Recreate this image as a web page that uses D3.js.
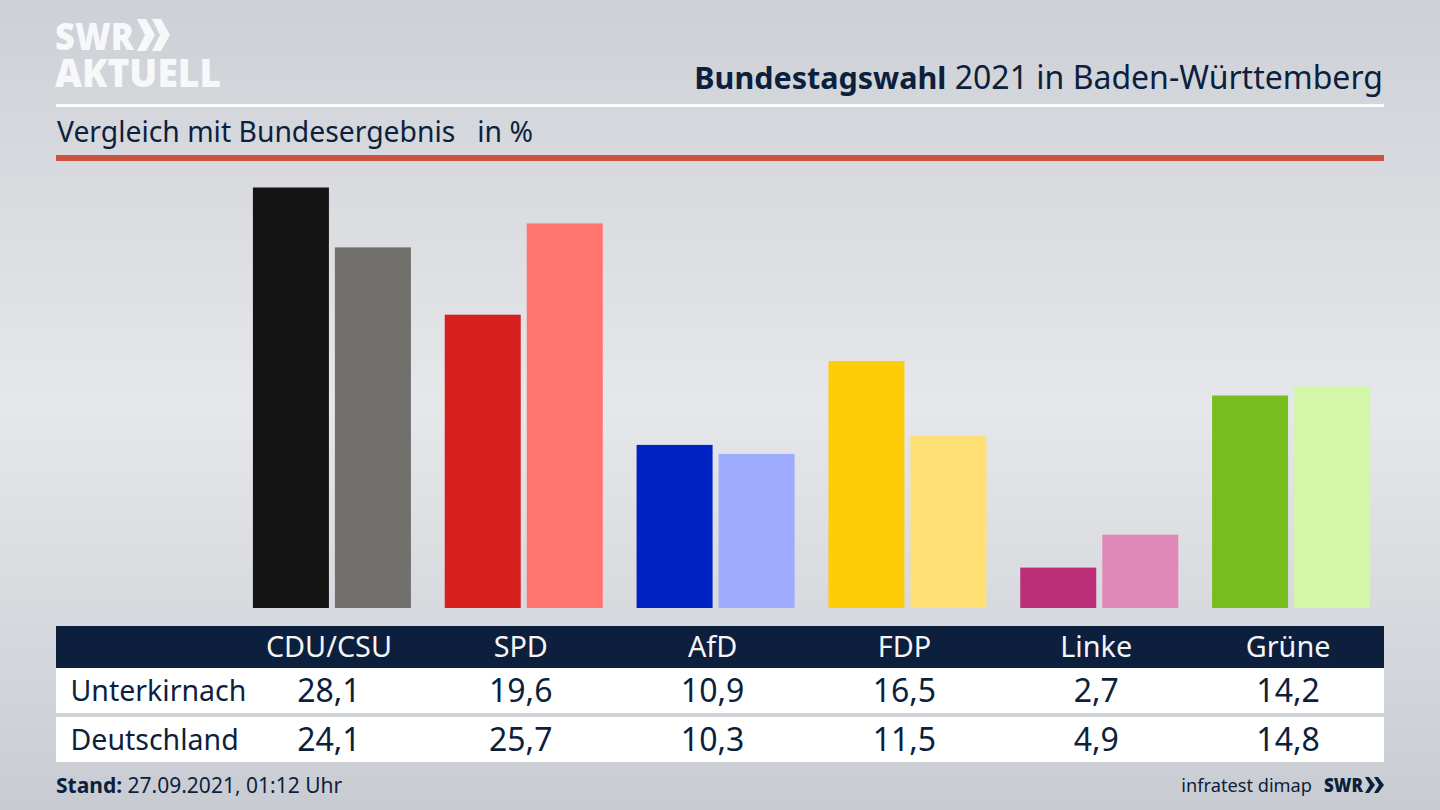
<!DOCTYPE html>
<html lang="de">
<head>
<meta charset="utf-8">
<script src="https://cdn.jsdelivr.net/npm/d3@7"></script>
<style>
  html, body { margin: 0; padding: 0; background: #d6d8dd; }
  svg { display: block; font-family: "Noto Sans", sans-serif; }
</style>
</head>
<body>
<div id="chart"></div>
<script>
const parties = ['CDU/CSU', 'SPD', 'AfD', 'FDP', 'Linke', 'Grüne'];
const regions = ['Unterkirnach', 'Deutschland'];
const unterkirnach = [28.1, 19.6, 10.9, 16.5, 2.7, 14.2];
const deutschland = [24.1, 25.7, 10.3, 11.5, 4.9, 14.8];
const colorsDark = ['#141414', '#d61f1f', '#0022c4', '#ffcc0a', '#bb2f78', '#78bd1e'];
const colorsLight = ['#72706d', '#ff746c', '#9eabff', '#ffe074', '#e088b8', '#d3f7a8'];

const width = 1440, height = 810;
const navy = '#0c1f3d';

const svg = d3.select('#chart').append('svg')
    .attr('width', width)
    .attr('height', height);

// background
const defs = svg.append('defs');
const bg = defs.append('linearGradient').attr('id', 'bg')
    .attr('x1', 0).attr('y1', 0).attr('x2', 0).attr('y2', 1);
[[0, '#cdd0d6'], [0.5, '#e6e7ea'], [1, '#c8ccd2']].forEach(s => {
    bg.append('stop').attr('offset', s[0]).attr('stop-color', s[1]);
});
svg.append('rect').attr('width', width).attr('height', height).attr('fill', 'url(#bg)');

// scales
const x = d3.scaleBand().domain(parties).range([233, 1384]);
const inner = d3.scaleBand().domain([0, 1]).range([-76, 82]).paddingInner(6 / 82);
const y = d3.scaleLinear().domain([0, 28.1]).range([608, 187.5]);

// bars
[unterkirnach, deutschland].forEach((values, s) => {
    const colors = s === 0 ? colorsDark : colorsLight;
    svg.append('g').selectAll('rect')
        .data(values)
        .join('rect')
        .attr('x', (d, i) => x(parties[i]) + x.bandwidth() / 2 + inner(s))
        .attr('y', d => y(d))
        .attr('width', inner.bandwidth())
        .attr('height', d => y(0) - y(d))
        .attr('fill', (d, i) => colors[i]);
});

// header block
const logo = svg.append('g').attr('fill', '#f7f8f9').attr('font-weight', 900);
logo.append('text').attr('x', 55).attr('y', 50).attr('font-size', 37)
    .attr('textLength', 79).attr('lengthAdjust', 'spacingAndGlyphs').text('SWR');
logo.append('text').attr('x', 55).attr('y', 87).attr('font-size', 38)
    .attr('textLength', 166).attr('lengthAdjust', 'spacingAndGlyphs').text('AKTUELL');
logo.selectAll('path').data([137, 152]).join('path')
    .attr('d', d => `M${d},19 L${d + 9},19 L${d + 18},35 L${d + 9},51 L${d},51 L${d + 8},35 Z`);

const title = svg.append('text')
    .attr('x', 1383).attr('y', 89)
    .attr('text-anchor', 'end')
    .attr('font-size', 32)
    .attr('fill', navy);
title.append('tspan').attr('font-weight', 700).attr('font-size', 30.5).text('Bundestagswahl');
title.append('tspan').text(' 2021 in Baden-Württemberg');

svg.append('rect').attr('x', 56).attr('y', 104).attr('width', 1328).attr('height', 3).attr('fill', '#fff');
svg.append('text').attr('x', 57).attr('y', 142).attr('font-size', 28.3).attr('fill', navy)
    .attr('xml:space', 'preserve').text('Vergleich mit Bundesergebnis   in %');
svg.append('rect').attr('x', 56).attr('y', 155).attr('width', 1328).attr('height', 6).attr('fill', '#c9533f');

// table
svg.append('rect').attr('x', 56).attr('y', 626).attr('width', 1328).attr('height', 42).attr('fill', navy);
const rowTop = [668, 717];
const rowBaseline = [701, 750];

const partyAxis = svg.append('g')
    .attr('transform', 'translate(0,626)')
    .call(d3.axisBottom(x).tickSize(0).tickPadding(0));
partyAxis.select('.domain').remove();
partyAxis.selectAll('text')
    .attr('y', 31).attr('dy', null)
    .attr('font-family', '"Noto Sans", sans-serif')
    .attr('font-size', 28.8).attr('fill', '#f4f5f7');

[unterkirnach, deutschland].forEach((values, r) => {
    svg.append('rect').attr('x', 56).attr('y', rowTop[r]).attr('width', 1328).attr('height', 45).attr('fill', '#fff');
    svg.append('text').attr('x', 70.5).attr('y', rowBaseline[r]).attr('font-size', 28.5).attr('fill', navy).text(regions[r]);
    svg.append('g').selectAll('text')
        .data(values)
        .join('text')
        .attr('x', (d, i) => x(parties[i]) + x.bandwidth() / 2)
        .attr('y', rowBaseline[r] + 1)
        .attr('text-anchor', 'middle')
        .attr('font-size', 32)
        .attr('fill', navy)
        .text(d => d3.format('.1f')(d).replace('.', ','));
});

// footer
const stand = svg.append('text').attr('x', 56).attr('y', 793).attr('font-size', 21).attr('fill', navy);
stand.append('tspan').attr('font-weight', 700).text('Stand:');
stand.append('tspan').text(' 27.09.2021, 01:12 Uhr');

svg.append('text').attr('x', 1312).attr('y', 792).attr('text-anchor', 'end')
    .attr('font-size', 18.2).attr('fill', navy).text('infratest dimap');
svg.append('text').attr('x', 1324).attr('y', 792).attr('font-size', 20).attr('font-weight', 900)
    .attr('textLength', 39).attr('lengthAdjust', 'spacingAndGlyphs').attr('fill', navy).text('SWR');
svg.append('g').attr('fill', navy).selectAll('path').data([1365, 1374]).join('path')
    .attr('d', d => `M${d},777 L${d + 4},777 L${d + 10},785 L${d + 4},793 L${d},793 L${d + 5},785 Z`);
</script>
</body>
</html>
